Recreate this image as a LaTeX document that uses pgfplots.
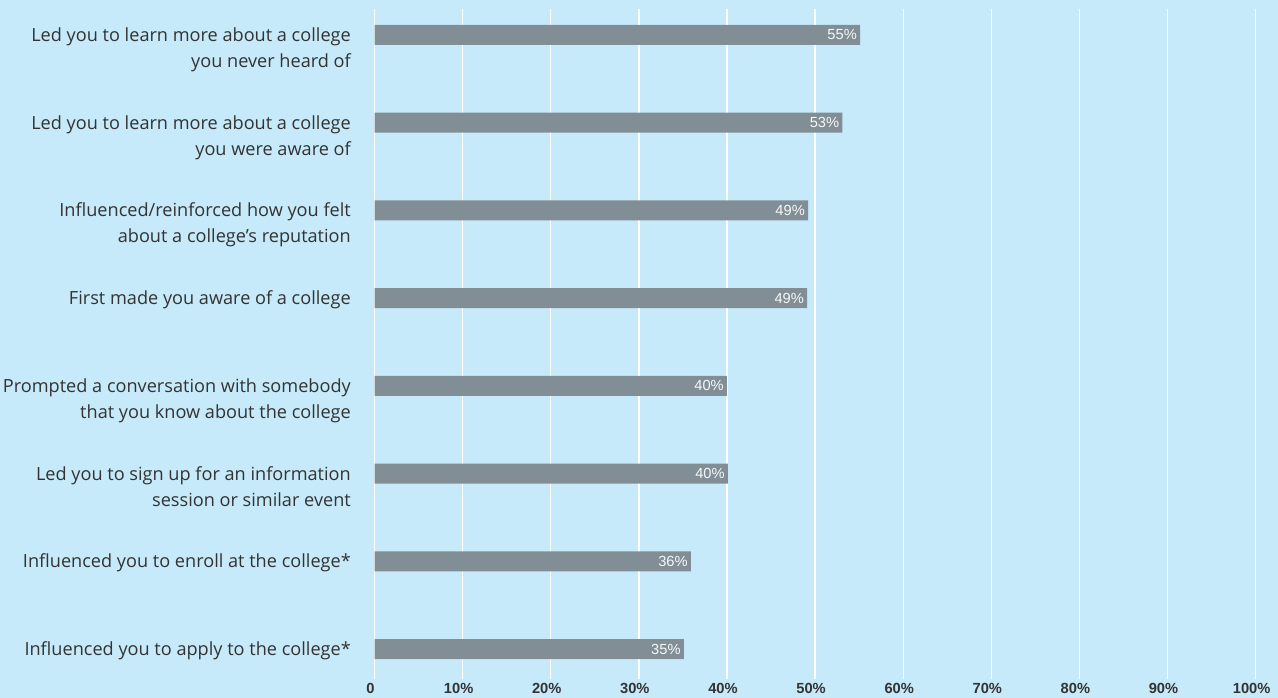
\documentclass[border=0pt]{standalone}
\usepackage{pgfplots}
\pgfplotsset{compat=1.18}
\usepackage{fontspec}
\setmainfont{Liberation Sans}
\newfontfamily\labfont{Open Sans}
\usetikzlibrary{backgrounds}
\definecolor{bg}{HTML}{C6EAF9}
\definecolor{barc}{HTML}{818E95}
\definecolor{txt}{HTML}{333333}
\newcommand{\two}[2]{\begin{tabular}[t]{@{}r@{}}#1\\#2\end{tabular}}

\pgfplotstableread{
x y lab
55.1 1 55
53.1 2 53
49.2 3 49
49.1 4 49
40.0 5 40
40.1 6 40
35.9 7 36
35.1 8 35
}\effects

\begin{document}
\begin{tikzpicture}
\begin{axis}[
  at={(280.9pt,14.25pt)}, anchor=south west,
  width=660.8pt, height=502.5pt, scale only axis,
  xmin=0, xmax=100, ymin=0.704, ymax=8.342, y dir=reverse,
  xbar, bar width=15pt,
  axis line style={draw=none},
  major tick length=0pt,
  xmajorgrids, grid style={white, line width=1pt},
  xtick={0,10,...,100},
  xticklabels={0,10\%,20\%,30\%,40\%,50\%,60\%,70\%,80\%,90\%,100\%},
  xticklabel style={font=\bfseries\fontsize{11}{13}\selectfont, text=txt, xshift=-3pt},
  ytick={1,...,8},
  yticklabels={
    {\two{Led you to learn more about a college}{you never heard of}},
    {\two{Led you to learn more about a college}{you were aware of}},
    {\two{Influenced/reinforced how you felt}{about a college’s reputation}},
    {First made you aware of a college},
    {\two{Prompted a conversation with somebody}{that you know about the college}},
    {\two{Led you to sign up for an information}{session or similar event}},
    {Influenced you to enroll at the college*},
    {Influenced you to apply to the college*}},
  yticklabel style={font=\labfont\fontsize{13.6}{19.5}\selectfont, text=txt,
    anchor=base east, inner sep=0pt, xshift=-17.6pt, yshift=-4.85pt},
  /pgf/number format/assume math mode=true,
  nodes near coords={\pgfmathprintnumber[fixed,precision=0]{\pgfplotspointmeta}\%},
  nodes near coords style={anchor=east, inner sep=0pt, xshift=-2.2pt,
    font=\fontsize{11}{13}\selectfont, text=white!94!barc},
  point meta=explicit,
]
\addplot[fill=barc, draw=none] table[x=x, y=y, meta=lab]{\effects};
\end{axis}
\begin{scope}[on background layer]
\fill[bg] (0,0) rectangle (958.5pt,523.5pt);
\end{scope}
\pgfresetboundingbox
\path (0,0) rectangle (958.5pt,523.5pt);
\end{tikzpicture}
\end{document}
